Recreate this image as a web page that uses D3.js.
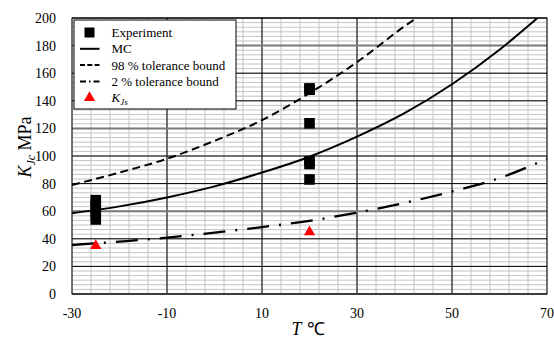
<!DOCTYPE html>
<html>
<head>
<meta charset="utf-8">
<script src="https://cdn.jsdelivr.net/npm/d3@7"></script>
<style>
  body { margin: 0; background: #fff; }
  text { font-family: "Liberation Serif", "Times New Roman", serif; }
</style>
</head>
<body>
<svg id="chart" width="554" height="340"></svg>
<script>
// Master curve and tolerance bounds
const mcT = [-30, -20, -10, 0, 10, 20, 30, 40, 50, 60, 68];
const mcK = [58.5, 63.5, 70, 78, 88, 99.5, 114, 131, 152, 177, 200];
const upT = [-30, -20, -10, 0, 10, 20, 30, 40, 42.5];
const upK = [79, 88, 98, 111, 126, 145.5, 168, 194, 200];
const loT = [-30, -20, -10, 0, 10, 20, 30, 40, 50, 60, 70];
const loK = [35.5, 38, 40.8, 44.5, 48.5, 53, 59, 66, 74.3, 84, 98];

// experiments
const expT = [-25, -25, -25, -25, -25, 20, 20, 20, 20, 20, 20];
const expK = [54, 58, 62, 65, 68, 149, 148, 123.7, 96.2, 94.2, 83];
const kjsT = [-25, 20];
const kjsK = [35, 45];

const xTicks = [-30, -10, 10, 30, 50, 70];
const yTicks = [0, 20, 40, 60, 80, 100, 120, 140, 160, 180, 200];

const svg = d3.select("#chart");
const x = d3.scaleLinear().domain([-30, 70]).range([72, 547]);
const y = d3.scaleLinear().domain([0, 200]).range([294, 18]);

// grid
const grid = svg.append("g");
grid.selectAll("line.vmin")
    .data(d3.range(-30, 70.01, 4))
    .enter().append("line")
    .attr("x1", d => x(d)).attr("x2", d => x(d))
    .attr("y1", y(0)).attr("y2", y(200))
    .style("stroke", "#c4c4c4").style("stroke-width", 1);
grid.selectAll("line.hmin")
    .data(d3.range(0, 200.01, 20 / 6))
    .enter().append("line")
    .attr("x1", x(-30)).attr("x2", x(70))
    .attr("y1", d => y(d)).attr("y2", d => y(d))
    .style("stroke", "#c4c4c4").style("stroke-width", 1);
grid.selectAll("line.vmaj")
    .data([-10, 10, 30, 50])
    .enter().append("line")
    .attr("x1", d => x(d)).attr("x2", d => x(d))
    .attr("y1", y(0)).attr("y2", y(200))
    .style("stroke", "#000").style("stroke-width", 1);
grid.selectAll("line.hmaj")
    .data(yTicks)
    .enter().append("line")
    .attr("x1", x(-30)).attr("x2", x(70))
    .attr("y1", d => y(d)).attr("y2", d => y(d))
    .style("stroke", d => d % 60 == 0 ? "#7a7a7a" : "#000")
    .style("stroke-width", d => d % 60 == 0 ? 2 : 1);

// frame
svg.append("rect")
    .attr("x", x(-30)).attr("y", y(200))
    .attr("width", x(70) - x(-30)).attr("height", y(0) - y(200))
    .style("fill", "none").style("stroke", "#000").style("stroke-width", 1);

// tick labels
svg.append("g").selectAll("text")
    .data(yTicks)
    .enter().append("text")
    .attr("x", 56).attr("y", d => y(d))
    .attr("dy", "0.35em")
    .attr("text-anchor", "end")
    .style("font-size", "14px")
    .text(d => d);
svg.append("g").selectAll("text")
    .data(xTicks)
    .enter().append("text")
    .attr("x", d => x(d)).attr("y", 318)
    .attr("text-anchor", "middle")
    .style("font-size", "14px")
    .text(d => d);

// axis titles
const yt = svg.append("text")
    .attr("transform", "translate(31,147) rotate(-90)")
    .attr("text-anchor", "middle")
    .style("font-size", "18px");
yt.append("tspan").style("font-style", "italic").text("K");
yt.append("tspan").attr("dy", 4).style("font-size", "12px").style("font-style", "italic").text("Jc");
yt.append("tspan").attr("dy", -4).text(" MPa");

const xt = svg.append("text")
    .attr("x", 308).attr("y", 335)
    .attr("text-anchor", "middle")
    .style("font-size", "18px");
xt.append("tspan").style("font-style", "italic").text("T");
xt.append("tspan").style("font-family", "'Liberation Sans', Arial, sans-serif").text(" \u2103");

// curves
svg.append("clipPath").attr("id", "clip")
    .append("rect")
    .attr("x", x(-30)).attr("y", y(200))
    .attr("width", x(70) - x(-30)).attr("height", y(0) - y(200));

const line = d3.line()
    .x(d => x(d[0])).y(d => y(d[1]))
    .curve(d3.curveMonotoneX);

const curves = svg.append("g").attr("clip-path", "url(#clip)");
curves.append("path")
    .attr("d", line(d3.zip(upT, upK)))
    .style("fill", "none").style("stroke", "#000")
    .style("stroke-width", 2).style("stroke-dasharray", "8,4.5");
curves.append("path")
    .attr("d", line(d3.zip(mcT, mcK)))
    .style("fill", "none").style("stroke", "#000").style("stroke-width", 2);
curves.append("path")
    .attr("d", line(d3.zip(loT, loK)))
    .style("fill", "none").style("stroke", "#000")
    .style("stroke-width", 2.3).style("stroke-dasharray", "22,10,2,10");

// markers
svg.append("g").selectAll("rect")
    .data(d3.zip(expT, expK))
    .enter().append("rect")
    .attr("x", d => x(d[0]) - 5.3).attr("y", d => y(d[1]) - 5.3)
    .attr("width", 10.6).attr("height", 10.6)
    .style("fill", "#000");

const tri = d3.symbol().type(d3.symbolTriangle).size(55);
svg.append("g").selectAll("path")
    .data(d3.zip(kjsT, kjsK))
    .enter().append("path")
    .attr("transform", d => `translate(${x(d[0])},${y(d[1])})`)
    .attr("d", tri)
    .style("fill", "#ff0000");

// legend
const legend = svg.append("g");
legend.append("rect")
    .attr("x", 74).attr("y", 20).attr("width", 162).attr("height", 89)
    .style("fill", "#fff").style("stroke", "#000").style("stroke-width", 1);

const items = [
    {label: "Experiment", kind: "square"},
    {label: "MC", kind: "solid"},
    {label: "98 % tolerance bound", kind: "dash"},
    {label: "2 % tolerance bound", kind: "dashdot"},
    {label: "K", sub: "Js", kind: "triangle"}
];

items.forEach((it, i) => {
    const cy = 32.5 + i * 16.3;
    if (it.kind == "square") {
        legend.append("rect").attr("x", 84.5).attr("y", cy - 5).attr("width", 10).attr("height", 10).style("fill", "#000");
    } else if (it.kind == "triangle") {
        legend.append("path").attr("transform", `translate(89.5,${cy})`).attr("d", tri).style("fill", "#ff0000");
    } else {
        const ln = legend.append("line")
            .attr("x1", 80).attr("x2", 99.5).attr("y1", cy).attr("y2", cy)
            .style("stroke", "#000").style("stroke-width", 2);
        if (it.kind == "dash") ln.style("stroke-dasharray", "5,2.3");
        if (it.kind == "dashdot") ln.style("stroke-dasharray", "6,3,1.5,3");
    }
    const t = legend.append("text")
        .attr("x", 111.5).attr("y", cy).attr("dy", "0.35em")
        .style("font-size", "13px");
    if (it.sub) {
        t.append("tspan").style("font-style", "italic").text(it.label);
        t.append("tspan").attr("dy", 3).style("font-size", "9px").style("font-style", "italic").text(it.sub);
    } else {
        t.text(it.label);
    }
});
</script>
</body>
</html>
